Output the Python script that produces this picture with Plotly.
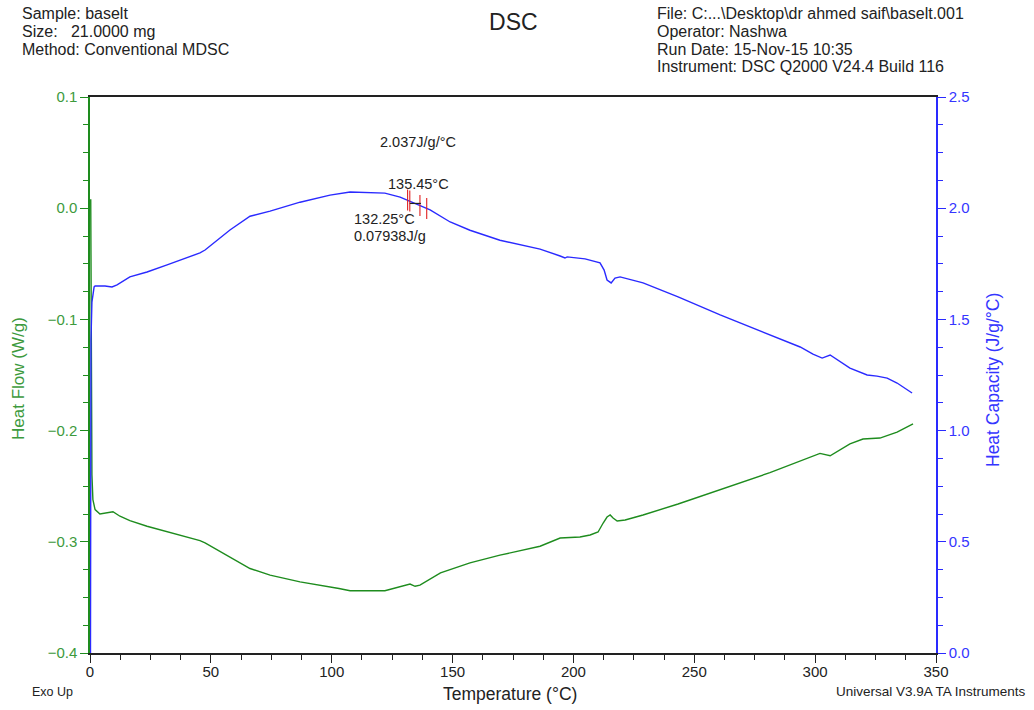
import numpy as np
import plotly.graph_objects as go

# Heat capacity (J/g/°C), right axis
cp_temp = [0.2, 0.4, 0.8, 1.7, 2.1, 6.2, 9.1, 11.2, 16.5, 23.6, 31.9, 41.4, 45.5, 47.6,
           57.9, 66.2, 74.5, 86.9, 99.3, 107.6, 122.0, 128.3, 132.4, 140.7, 149.0, 157.2,
           169.6, 186.2, 194.5, 196.5, 197.4, 204.8, 211.0, 212.7, 213.9, 215.6, 217.2,
           219.3, 228.8, 243.3, 260.7, 285.5, 293.8, 299.1, 302.9, 306.2, 308.2, 314.4,
           321.5, 325.6, 329.8, 333.9, 340.1]
cp_vals = [0.0, 1.407, 1.578, 1.646, 1.650, 1.650, 1.646, 1.655, 1.691, 1.713, 1.745, 1.781,
           1.799, 1.812, 1.902, 1.964, 1.987, 2.027, 2.059, 2.073, 2.068, 2.050, 2.032, 1.992,
           1.938, 1.901, 1.856, 1.816, 1.785, 1.776, 1.781, 1.772, 1.754, 1.722, 1.677, 1.664,
           1.686, 1.691, 1.664, 1.601, 1.520, 1.412, 1.376, 1.344, 1.326, 1.340, 1.326, 1.281,
           1.250, 1.245, 1.236, 1.214, 1.169]

# Heat flow (W/g), left axis
hf_temp = [0.3, 0.5, 0.8, 1.2, 2.1, 4.1, 8.3, 9.5, 12.4, 16.5, 23.6, 30.2, 37.2, 45.5, 47.6,
           57.9, 66.2, 74.5, 86.9, 103.0, 107.6, 122.0, 130.0, 132.4, 134.5, 136.5, 145.0,
           157.2, 169.6, 186.2, 194.5, 202.7, 206.9, 210.2, 212.3, 213.9, 215.2, 216.4, 218.1,
           221.4, 228.8, 235.8, 243.3, 281.3, 302.0, 306.2, 309.0, 314.4, 319.8, 322.7, 326.8,
           333.9, 340.5]
hf_vals = [0.008, -0.115, -0.240, -0.262, -0.271, -0.275, -0.273, -0.273, -0.277, -0.281,
           -0.286, -0.290, -0.294, -0.299, -0.301, -0.314, -0.324, -0.330, -0.336, -0.342,
           -0.344, -0.344, -0.339, -0.338, -0.340, -0.339, -0.328, -0.319, -0.312, -0.304,
           -0.2966, -0.2957, -0.2939, -0.2912, -0.2831, -0.2777, -0.2759, -0.2786, -0.2813,
           -0.2804, -0.2759, -0.2714, -0.266, -0.2378, -0.2205, -0.2226, -0.219, -0.212,
           -0.2076, -0.207, -0.2067, -0.2013, -0.194]

# Glass-transition analysis markers (temperatures)
tg_marks = [131.4, 132.3, 136.5, 139.3]
tg_mid = [134.6]

left_hdr = ["Sample: baselt", "Size:   21.0000 mg", "Method: Conventional MDSC"]
right_hdr = ["File: C:...\\Desktop\\dr ahmed saif\\baselt.001", "Operator: Nashwa",
             "Run Date: 15-Nov-15 10:35", "Instrument: DSC Q2000 V24.4 Build 116"]

GREEN = "#1e8c1e"
GREEN_TXT = "#3d9a3d"
BLUE = "#2a2aff"
BLUE_TXT = "#3535ff"
RED = "#e02020"
FONT = "Liberation Sans, Arial, sans-serif"

fig = go.Figure()
fig.add_trace(go.Scatter(x=hf_temp, y=hf_vals, mode="lines",
                         line=dict(color=GREEN, width=1.4), yaxis="y", showlegend=False))
fig.add_trace(go.Scatter(x=cp_temp, y=cp_vals, mode="lines",
                         line=dict(color=BLUE, width=1.4), yaxis="y2", showlegend=False))
fig.add_trace(go.Scatter(x=tg_marks, y=list(np.interp(tg_marks, cp_temp, cp_vals)),
                         mode="markers", yaxis="y2", showlegend=False,
                         marker=dict(symbol="line-ns-open", size=15, color=RED,
                                     line=dict(color=RED, width=1.1))))
fig.add_trace(go.Scatter(x=tg_mid, y=list(np.interp(tg_mid, cp_temp, cp_vals)),
                         mode="markers", yaxis="y2", showlegend=False,
                         marker=dict(symbol="line-ew-open", size=8, color="#222222",
                                     line=dict(color="#222222", width=1.2))))

fig.update_layout(
    width=1034, height=710,
    margin=dict(l=90, r=98, t=97, b=57),
    paper_bgcolor="white", plot_bgcolor="white",
    font=dict(family=FONT, color="#222222"),
    title=dict(text="DSC", x=0.4965, xanchor="center", y=0.969, yanchor="middle",
               font=dict(family=FONT, size=23, color="#222222")),
    xaxis=dict(range=[0, 350], dtick=50, tick0=0, showgrid=False, zeroline=False,
               automargin=False,
               showline=True, linecolor="#222222", linewidth=1.5, mirror=True,
               ticks="outside", ticklen=8, tickcolor="#222222", tickwidth=1.3,
               ticklabelstandoff=-4,
               tickfont=dict(family=FONT, size=15, color="#222222"),
               minor=dict(dtick=12.5, ticks="outside", ticklen=5, tickcolor="#222222")),
    yaxis=dict(range=[-0.4, 0.1], dtick=0.1, tick0=0, showgrid=False, zeroline=False,
               automargin=False,
               showline=True, linecolor=GREEN, linewidth=1.5,
               ticks="outside", ticklen=8, tickcolor=GREEN, tickwidth=1.3,
               tickformat=".1f",
               tickfont=dict(family=FONT, size=15, color=GREEN_TXT),
               minor=dict(dtick=0.025, ticks="outside", ticklen=5, tickcolor=GREEN)),
    yaxis2=dict(range=[0, 2.5], dtick=0.5, tick0=0, overlaying="y", side="right",
                showgrid=False, zeroline=False, automargin=False,
                showline=True, linecolor=BLUE, linewidth=1.5,
                ticks="outside", ticklen=8, tickcolor=BLUE, tickwidth=1.3,
                tickformat=".1f",
                tickfont=dict(family=FONT, size=15, color=BLUE_TXT),
                minor=dict(dtick=0.125, ticks="outside", ticklen=5, tickcolor=BLUE)),
)

# Axis titles
fig.add_annotation(text="Temperature (°C)", xref="paper", yref="paper", x=0.4965,
                   y=(653 - 694) / 556, xanchor="center", yanchor="middle", showarrow=False,
                   font=dict(family=FONT, size=17.5, color="#222222"))
fig.add_annotation(text="Heat Flow (W/g)", xref="paper", yref="paper", x=(18 - 90) / 846,
                   y=(653 - 379) / 556, xanchor="center", yanchor="middle", textangle=-90,
                   showarrow=False, font=dict(family=FONT, size=17, color=GREEN_TXT))
fig.add_annotation(text="Heat Capacity (J/g/°C)", xref="paper", yref="paper",
                   x=(993 - 90) / 846, y=(653 - 380) / 556, xanchor="center",
                   yanchor="middle", textangle=-90, showarrow=False,
                   font=dict(family=FONT, size=17.5, color=BLUE_TXT))

hdr = dict(family=FONT, size=16, color="#222222")
line_px = [13, 31, 49, 67]
for i, t in enumerate(left_hdr):
    fig.add_annotation(text=t, xref="paper", yref="paper", x=-0.0827,
                       y=(653 - line_px[i]) / 556, xanchor="left", yanchor="middle",
                       showarrow=False, font=hdr)
for i, t in enumerate(right_hdr):
    fig.add_annotation(text=t, xref="paper", yref="paper", x=0.6678,
                       y=(653 - line_px[i]) / 556, xanchor="left", yanchor="middle",
                       showarrow=False, font=hdr)

fig.add_annotation(text="Exo Up", xref="paper", yref="paper", x=-0.0709, y=-0.0701,
                   xanchor="left", yanchor="middle", showarrow=False,
                   font=dict(family=FONT, size=12.5, color="#222222"))
fig.add_annotation(text="Universal V3.9A TA Instruments", xref="paper", yref="paper",
                   x=1.1087, y=-0.0701, xanchor="right", yanchor="middle",
                   showarrow=False, font=dict(family=FONT, size=13.5, color="#222222"))

ann = dict(family=FONT, size=14.5, color="#222222")
fig.add_annotation(text="2.037J/g/°C", x=135.7, y=2.296, xref="x", yref="y2",
                   showarrow=False, font=ann, xanchor="center", yanchor="middle")
fig.add_annotation(text="135.45°C", x=136.0, y=2.110, xref="x", yref="y2",
                   showarrow=False, font=ann, xanchor="center", yanchor="middle")
fig.add_annotation(text="132.25°C", x=108.4, y=1.951, xref="x", yref="y2",
                   showarrow=False, font=ann, xanchor="left", yanchor="middle")
fig.add_annotation(text="0.07938J/g", x=108.4, y=1.875, xref="x", yref="y2",
                   showarrow=False, font=ann, xanchor="left", yanchor="middle")

fig.write_html("out.html")
